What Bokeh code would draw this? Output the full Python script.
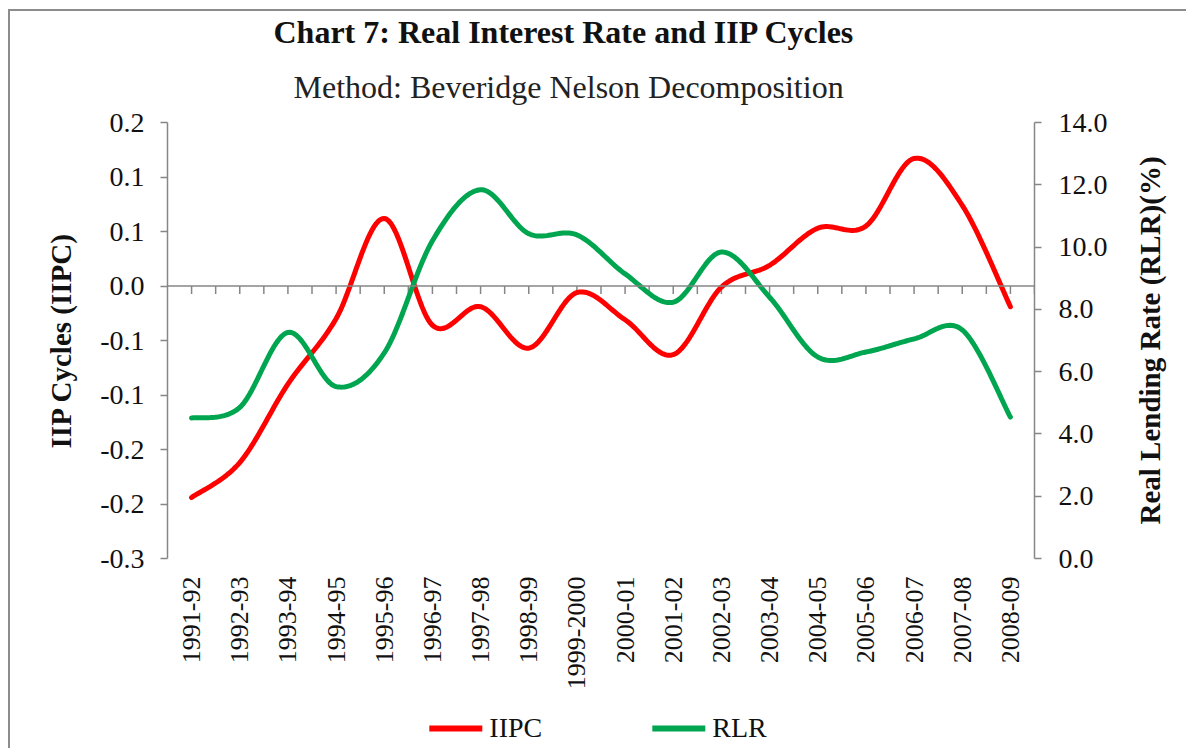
import numpy as np
from bokeh.plotting import figure
from bokeh.layouts import column, row
from bokeh.models import (Range1d, LinearAxis, FixedTicker, CustomJSTickFormatter,
                          PrintfTickFormatter, Span, Title, Legend, LegendItem, Label)
from bokeh.embed import file_html
from bokeh.resources import INLINE

# ---------------- data ----------------
CATEGORIES = ["1991-92", "1992-93", "1993-94", "1994-95", "1995-96", "1996-97",
              "1997-98", "1998-99", "1999-2000", "2000-01", "2001-02", "2002-03",
              "2003-04", "2004-05", "2005-06", "2006-07", "2007-08", "2008-09"]
IIPC = [-0.194, -0.162, -0.090, -0.030, 0.062, -0.036, -0.019, -0.057, -0.006,
        -0.031, -0.063, -0.001, 0.019, 0.053, 0.055, 0.117, 0.074, -0.019]
RLR = [4.51, 4.85, 7.26, 5.52, 6.6, 10.2, 11.84, 10.43, 10.39,
       9.14, 8.23, 9.84, 8.39, 6.47, 6.63, 7.05, 7.34, 4.54]
LEFT_TICKS = [-0.25, -0.2, -0.15, -0.1, -0.05, 0.0, 0.05, 0.1, 0.15]
LEFT_TICK_LABELS = ["-0.3", "-0.2", "-0.2", "-0.1", "-0.1", "0.0", "0.1", "0.1", "0.2"]
RIGHT_TICKS = [0, 2, 4, 6, 8, 10, 12, 14]
TITLE = "Chart 7: Real Interest Rate and IIP Cycles"
SUBTITLE = "Method: Beveridge Nelson Decomposition"
LEFT_LABEL = "IIP Cycles (IIPC)"
RIGHT_LABEL = "Real Lending Rate (RLR)(%)"
SERIES_NAMES = ["IIPC", "RLR"]

FONT = "Liberation Serif"
GRAY = "#868686"
RED = "#FF0000"
GREEN = "#00A550"
TXT = "#111111"


def smooth(ys, n=24):
    """Smoothed drawing path through the data points (Catmull-Rom Bezier, like Excel's smoothed line)."""
    ys = np.asarray(ys, float)
    xs = np.arange(len(ys), dtype=float)
    px = np.concatenate([[xs[0]], xs, [xs[-1]]])
    py = np.concatenate([[ys[0]], ys, [ys[-1]]])
    outx, outy = [], []
    t = np.linspace(0, 1, n, endpoint=False)
    for i in range(len(ys) - 1):
        p0x, p1x, p2x, p3x = px[i], px[i + 1], px[i + 2], px[i + 3]
        p0y, p1y, p2y, p3y = py[i], py[i + 1], py[i + 2], py[i + 3]
        c1x, c1y = p1x + (p2x - p0x) / 6, p1y + (p2y - p0y) / 6
        c2x, c2y = p2x - (p3x - p1x) / 6, p2y - (p3y - p1y) / 6
        b0, b1, b2, b3 = (1 - t) ** 3, 3 * (1 - t) ** 2 * t, 3 * (1 - t) * t ** 2, t ** 3
        outx.extend(b0 * p1x + b1 * c1x + b2 * c2x + b3 * p2x)
        outy.extend(b0 * p1y + b1 * c1y + b2 * c2y + b3 * p2y)
    outx.append(xs[-1])
    outy.append(ys[-1])
    return outx, outy


def blank_figure(w, h):
    f = figure(width=w, height=h, x_range=Range1d(0, 1), y_range=Range1d(0, 1),
               output_backend="svg", toolbar_location=None,
               x_axis_location=None, y_axis_location=None,
               min_border_left=0, min_border_right=0, min_border_top=0, min_border_bottom=0)
    f.grid.visible = False
    f.outline_line_color = None
    f.background_fill_color = "white"
    f.border_fill_color = "white"
    return f


n = len(CATEGORIES)
p = figure(width=1102, height=697,
           x_range=Range1d(-0.5, n - 0.5), y_range=Range1d(LEFT_TICKS[0], LEFT_TICKS[-1]),
           output_backend="svg", toolbar_location=None,
           min_border_left=157, min_border_right=78, min_border_top=111, min_border_bottom=150)
p.grid.visible = False
p.outline_line_color = None
p.background_fill_color = "white"
p.border_fill_color = "white"

# ---- bottom category labels (the category axis line is drawn at zero) ----
xa = p.xaxis[0]
xa.ticker = FixedTicker(ticks=list(range(n)))
xa.formatter = CustomJSTickFormatter(args=dict(cat_labels=CATEGORIES), code="""
    const i = Math.round(tick);
    return (i >= 0 && i < cat_labels.length) ? cat_labels[i] : "";
""")
xa.major_label_orientation = np.pi / 2
xa.axis_line_color = None
xa.major_tick_line_color = None
xa.major_tick_out = 0
xa.major_tick_in = 0
xa.minor_tick_line_color = None
xa.minor_tick_out = 0
xa.major_label_standoff = 18
xa.major_label_text_font = FONT
xa.major_label_text_font_size = "26px"
xa.major_label_text_color = TXT

# ---- left axis ----
ya = p.yaxis[0]
ya.ticker = FixedTicker(ticks=LEFT_TICKS)
ya.formatter = CustomJSTickFormatter(args=dict(tick_vals=LEFT_TICKS, tick_texts=LEFT_TICK_LABELS), code="""
    let best = 0;
    for (let i = 0; i < tick_vals.length; i++) {
        if (Math.abs(tick_vals[i] - tick) < Math.abs(tick_vals[best] - tick)) best = i;
    }
    return tick_texts[best];
""")
ya.axis_line_color = GRAY
ya.axis_line_width = 1.5
ya.major_tick_line_color = GRAY
ya.major_tick_line_width = 1.5
ya.major_tick_out = 7
ya.major_tick_in = 0
ya.minor_tick_line_color = None
ya.minor_tick_out = 0
ya.major_label_standoff = 16
ya.major_label_text_font = FONT
ya.major_label_text_font_size = "28px"
ya.major_label_text_color = TXT
ya.axis_label = LEFT_LABEL
ya.axis_label_text_font = FONT
ya.axis_label_text_font_size = "29px"
ya.axis_label_text_font_style = "bold"
ya.axis_label_text_color = TXT
ya.axis_label_standoff = 20

# ---- right axis ----
p.extra_y_ranges = {"rlr": Range1d(RIGHT_TICKS[0], RIGHT_TICKS[-1])}
ra = LinearAxis(y_range_name="rlr", ticker=FixedTicker(ticks=RIGHT_TICKS),
                formatter=PrintfTickFormatter(format="%.1f"))
ra.axis_line_color = GRAY
ra.axis_line_width = 1.5
ra.major_tick_line_color = GRAY
ra.major_tick_line_width = 1.5
ra.major_tick_out = 7
ra.major_tick_in = 0
ra.minor_tick_line_color = None
ra.minor_tick_out = 0
ra.major_label_standoff = 17
ra.major_label_text_font = FONT
ra.major_label_text_font_size = "28px"
ra.major_label_text_color = TXT
p.add_layout(ra, "right")

# ---- category axis line at zero with tick marks ----
p.add_layout(Span(location=0, dimension="width", line_color=GRAY, line_width=1.5))
tick_pos = np.arange(0, n - 0.5 + 1e-9, 0.5)
tick_len = (LEFT_TICKS[-1] - LEFT_TICKS[0]) * 8 / 436
p.segment(x0=tick_pos, y0=np.zeros_like(tick_pos), x1=tick_pos, y1=np.full_like(tick_pos, -tick_len),
          line_color=GRAY, line_width=1.5)

# ---- series ----
sx, sy = smooth(IIPC)
p.line(sx, sy, line_color=RED, line_width=5, line_cap="round", line_join="round")
gx, gy = smooth(RLR)
p.line(gx, gy, line_color=GREEN, line_width=5, line_cap="round", line_join="round",
       y_range_name="rlr")

# ---- titles ----
p.add_layout(Title(text=SUBTITLE, align="left", offset=126, standoff=35, text_font=FONT,
                   text_font_size="32px", text_font_style="normal", text_color="#222222"), "above")
p.add_layout(Title(text=TITLE, align="left", offset=106, standoff=0, text_font=FONT,
                   text_font_size="32px", text_font_style="bold", text_color=TXT,
                   text_line_height=1.15), "above")

# ---- right-hand axis title, in a narrow strip so it reads bottom-to-top ----
r = blank_figure(74, 697)
r.add_layout(Label(x=0.5, y=0.5, text=RIGHT_LABEL, angle=np.pi / 2,
                   text_align="center", text_baseline="middle", text_font=FONT,
                   text_font_size="29px", text_font_style="bold", text_color=TXT))

# ---- legend strip below the chart ----
q = blank_figure(1176, 40)
# legend-only renderers: their points lie outside the visible range
lr1 = q.line([-3, -2], [-3, -3], line_color=RED, line_width=6, line_cap="round")
lr2 = q.line([-3, -2], [-3, -3], line_color=GREEN, line_width=6, line_cap="round")
legend = Legend(items=[LegendItem(label=SERIES_NAMES[0], renderers=[lr1]),
                       LegendItem(label=SERIES_NAMES[1], renderers=[lr2])],
                orientation="horizontal", location="center",
                border_line_color=None, background_fill_alpha=0,
                padding=0, margin=0, spacing=110, glyph_width=53, glyph_height=28,
                label_standoff=7, label_text_font=FONT, label_text_font_size="28px",
                label_text_color=TXT)
q.add_layout(legend)

layout = column(row(p, r, spacing=0), q, spacing=0)
layout.styles = {"margin-left": "8px", "margin-top": "9px",
                 "border-left": "2px solid #8c8c8c", "border-top": "2px solid #8c8c8c"}

open("out.html", "w").write(file_html(layout, INLINE))
